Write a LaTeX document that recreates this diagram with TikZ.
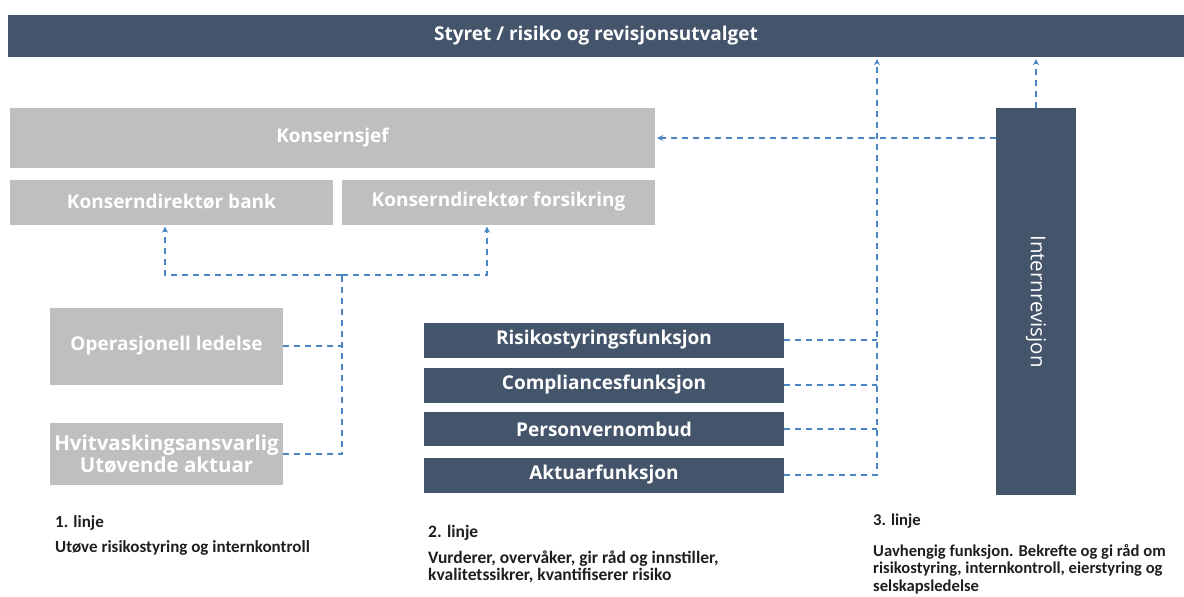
\documentclass[tikz,border=0pt]{standalone}
\usepackage{fontspec}
\setmainfont{Carlito}
\newfontfamily\boxfont{Open Sans}
\usetikzlibrary{arrows.meta}
\definecolor{navy}{HTML}{44546A}
\definecolor{lgray}{HTML}{BFBFBF}
\definecolor{dashblue}{HTML}{4A86C5}
\definecolor{txt}{HTML}{1E1E1E}
\tikzset{
  graybox/.style={draw=none, fill=lgray, text=white, font=\boxfont\bfseries\fontsize{19}{21}\selectfont, inner sep=0pt, align=center},
  navybox/.style={draw=none, fill=navy, text=white, font=\boxfont\bfseries\fontsize{19}{21}\selectfont, inner sep=0pt, align=center},
  conn/.style={draw=dashblue, line width=1.4pt, dash pattern=on 6pt off 5pt},
  arr/.style={conn, -{Stealth[length=6pt,width=6pt]}, shorten >=2pt},
  note/.style={anchor=base west, text=txt, font=\bfseries\fontsize{17}{19}\selectfont, inner sep=0pt},
  notec/.style={note, font=\bfseries\fontsize{16.6}{18}\selectfont},
}
\begin{document}
\begin{tikzpicture}[x=1pt,y=-1pt]
\useasboundingbox (0,0) rectangle (1184,597);
% boxes
\node[navybox, minimum width=1176pt, minimum height=42pt] (styret) at (596,36) {Styret / risiko og revisjonsutvalget};
\node[graybox, minimum width=645pt, minimum height=60pt] (ksj) at (332.5,138) {Konsernsjef};
\node[graybox, minimum width=323pt, minimum height=45pt] (bank) at (171.5,202) {Konserndirektør bank};
\node[graybox, minimum width=313pt, minimum height=45pt] (fors) at (498.5,202) {Konserndirektør forsikring};
\node[graybox, minimum width=233pt, minimum height=77pt] (oper) at (166.5,346) {Operasjonell ledelse};
\node[graybox, font=\boxfont\bfseries\fontsize{20.5}{22}\selectfont, minimum width=233pt, minimum height=62pt] (hvit) at (166.5,454) {Hvitvaskingsansvarlig\\Utøvende aktuar};
\node[navybox, minimum width=360pt, minimum height=35pt] (risk) at (604,340) {Risikostyringsfunksjon};
\node[navybox, minimum width=360pt, minimum height=35pt] (comp) at (604,385) {Compliancesfunksjon};
\node[navybox, minimum width=360pt, minimum height=34pt] (pers) at (604,429) {Personvernombud};
\node[navybox, minimum width=360pt, minimum height=35pt] (akt) at (604,475) {Aktuarfunksjon};
\node[navybox, minimum width=80pt, minimum height=387pt] (intern) at (1036,301.5) {};
\node[text=white, font=\boxfont\fontsize{20.5}{22}\selectfont, rotate=-90, inner sep=0pt] (interntxt) at (intern.center) {Internrevisjon};
% junction coordinates
\coordinate (jb) at (342,275);
\coordinate (ja) at (165,275);
\coordinate (jc) at (487,275);
\coordinate (kx) at (877,472);
% first line connectors
\draw[conn] (oper.east) -- (oper.east -| jb);
\draw[conn] (hvit.east) -- (hvit.east -| jb) -- (jb);
\draw[arr] (jb) -- (ja) -- (ja |- bank.south);
\draw[arr] (jb) -- (jc) -- (jc |- fors.south);
% second line connectors
\draw[conn] (risk.east) -- (risk.east -| kx);
\draw[conn] (comp.east) -- (comp.east -| kx);
\draw[conn] (pers.east) -- (pers.east -| kx);
\draw[arr] (akt.east) -- (akt.east -| kx) -- (kx |- styret.south);
% third line
\draw[arr] (intern.north) -- (intern.north |- styret.south);
\draw[arr] (intern.west |- ksj.east) -- (ksj.east);
% notes
\node[note] (n1a) at (55,527) {1. linje};
\node[note] (n1b) at (55,552) {Utøve risikostyring og internkontroll};
\node[note, font=\bfseries\fontsize{17.5}{19}\selectfont] (n2a) at (428,537) {2. linje};
\node[note, font=\bfseries\fontsize{17.5}{19}\selectfont] (n2b) at (428,563) {Vurderer, overvåker, gir råd og innstiller,};
\node[note, font=\bfseries\fontsize{17.5}{19}\selectfont] (n2c) at (428,580) {kvalitetssikrer, kvantifiserer risiko};
\node[notec] (n3a) at (873,525) {3. linje};
\node[notec] (n3b) at (873,556) {Uavhengig funksjon. Bekrefte og gi råd om};
\node[notec] (n3c) at (873,573) {risikostyring, internkontroll, eierstyring og};
\node[notec] (n3d) at (873,591) {selskapsledelse};
\end{tikzpicture}
\end{document}
